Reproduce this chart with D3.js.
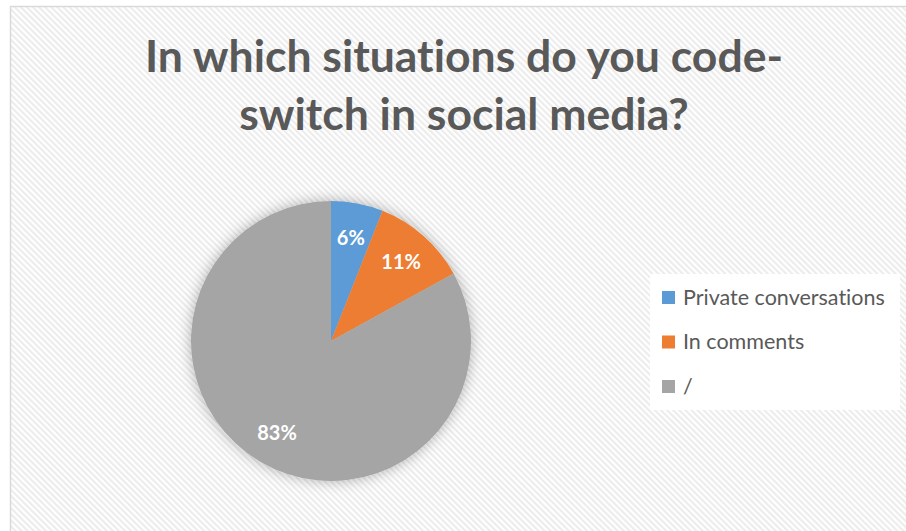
<!DOCTYPE html>
<html>
<head>
<meta charset="utf-8">
<script src="https://cdn.jsdelivr.net/npm/d3@7"></script>
<style>
  html, body { margin: 0; padding: 0; background: #ffffff; }
  svg { display: block; }
  text { font-variant-ligatures: none; font-feature-settings: "liga" 0; }
</style>
</head>
<body>
<svg id="chart" width="906" height="531"></svg>
<script>
// Survey answers: where respondents code-switch on social media
const categories = ["Private conversations", "In comments", "/"];
const percentages = [6, 11, 83];
const sliceColors = ["#5B9BD5", "#ED7D31", "#A5A5A5"];
const titleLines = ["In which situations do you code-", "switch in social media?"];

const svg = d3.select("#chart");
const W = 906, H = 531;

const defs = svg.append("defs");

// Fine downward-diagonal hatch for the chart area
const hatch = defs.append("pattern")
  .attr("id", "hatch")
  .attr("patternUnits", "userSpaceOnUse")
  .attr("width", 4.3).attr("height", 4.3)
  .attr("patternTransform", "rotate(-45)");
hatch.append("rect").attr("width", 4.3).attr("height", 4.3).attr("fill", "#ffffff");
hatch.append("rect").attr("width", 2.1).attr("height", 4.3).attr("fill", "#ececec");

// Soft glow around the pie
const glow = defs.append("filter")
  .attr("id", "glow")
  .attr("x", "-30%").attr("y", "-30%").attr("width", "160%").attr("height", "160%");
glow.append("feGaussianBlur").attr("in", "SourceAlpha").attr("stdDeviation", 7).attr("result", "blur");
glow.append("feFlood").attr("flood-color", "#000000").attr("flood-opacity", 0.3).attr("result", "col");
glow.append("feComposite").attr("in", "col").attr("in2", "blur").attr("operator", "in").attr("result", "shadow");
const merge = glow.append("feMerge");
merge.append("feMergeNode").attr("in", "shadow");
merge.append("feMergeNode").attr("in", "SourceGraphic");

// Chart area with border
svg.append("rect")
  .attr("x", 10.5).attr("y", 6.5)
  .attr("width", W + 20).attr("height", H + 20)
  .attr("fill", "url(#hatch)")
  .attr("stroke", "#d9d9d9")
  .attr("stroke-width", 1.5);

// Title
const title = svg.append("text")
  .attr("text-anchor", "middle")
  .attr("font-family", "Lato, 'Open Sans', sans-serif")
  .attr("font-weight", 700)
  .attr("font-size", 44.5)
  .attr("fill", "#595959");
title.selectAll("tspan")
  .data(titleLines)
  .join("tspan")
  .attr("x", 464)
  .attr("y", (d, i) => 72 + i * 58)
  .text(d => d);

// Pie
const cx = 331, cy = 341, radius = 140;
const pie = d3.pie().sort(null).value(d => d)
  .startAngle(0).endAngle(2 * Math.PI);
const arcs = pie(percentages);
const arc = d3.arc().innerRadius(0).outerRadius(radius);
const labelArc = d3.arc().innerRadius(106).outerRadius(106);

const g = svg.append("g").attr("transform", `translate(${cx},${cy})`);
g.append("g")
  .attr("filter", "url(#glow)")
  .selectAll("path")
  .data(arcs)
  .join("path")
  .attr("d", arc)
  .attr("fill", (d, i) => sliceColors[i]);

g.selectAll("text.lbl")
  .data(arcs)
  .join("text")
  .attr("class", "lbl")
  .attr("transform", d => {
    const [x, y] = labelArc.centroid(d);
    return `translate(${x},${y})`;
  })
  .attr("text-anchor", "middle")
  .attr("dominant-baseline", "central")
  .attr("font-family", "Lato, 'Open Sans', sans-serif")
  .attr("font-weight", 700)
  .attr("font-size", 20)
  .attr("fill", "#ffffff")
  .text(d => d.data + "%");

// Legend
const legend = svg.append("g");
legend.append("rect")
  .attr("x", 650).attr("y", 274)
  .attr("width", 250).attr("height", 136)
  .attr("fill", "#ffffff");

const items = legend.selectAll("g.item")
  .data(categories)
  .join("g")
  .attr("class", "item")
  .attr("transform", (d, i) => `translate(662,${291 + i * 44.5})`);
items.append("rect")
  .attr("width", 13).attr("height", 13)
  .attr("fill", (d, i) => sliceColors[i]);
items.append("text")
  .attr("x", 21).attr("y", 13.5)
  .attr("font-family", "Lato, 'Open Sans', sans-serif")
  .attr("font-size", 21.5)
  .attr("fill", "#595959")
  .text(d => d);
</script>
</body>
</html>
